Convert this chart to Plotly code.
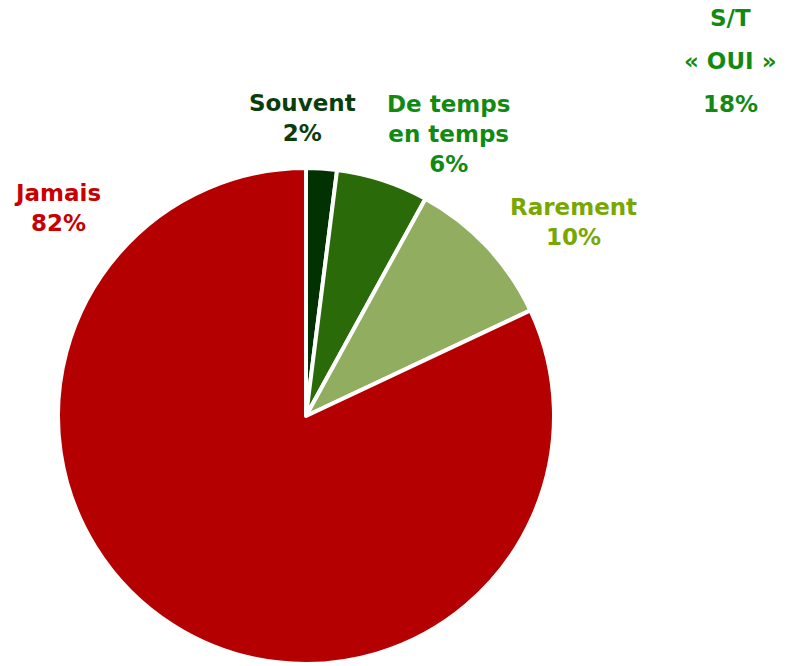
import plotly.graph_objects as go

categories = ["Souvent", "De temps en temps", "Rarement", "Jamais"]
label_text = ["Souvent", "De temps<br>en temps", "Rarement", "Jamais"]
values = [2, 6, 10, 82]
slice_colors = ["#023102", "#2a6a08", "#90ad60", "#b40000"]
label_colors = ["#0b3d0b", "#108a10", "#78a800", "#c80000"]
summary_title = ["S/T", "« OUI »"]
summary_color = "#128a12"

fig = go.Figure(go.Pie(
    labels=categories,
    values=values,
    sort=False,
    direction="clockwise",
    rotation=0,
    marker=dict(colors=slice_colors, line=dict(color="white", width=4)),
    textinfo="none",
    hoverinfo="label+percent",
    showlegend=False,
    domain=dict(x=[58/787, 554/787], y=[2/666, 498/666]),
))

font_family = "DejaVu Sans"
# label anchor positions (paper coords, centre of text block)
label_pos = [(302/787, 1 - 118/666), (448/787, 1 - 134/666), (573/787, 1 - 222/666), (57/787, 1 - 208/666)]
annotations = []
for name, v, c, (x, y) in zip(label_text, values, label_colors, label_pos):
    annotations.append(dict(
        x=x, y=y, xref="paper", yref="paper", showarrow=False,
        text=f"<b>{name}<br>{v}%</b>", align="center",
        font=dict(family=font_family, size=23, color=c),
        xanchor="center", yanchor="middle",
    ))

oui_total = sum(values[:3])
summary_lines = summary_title + [f"{oui_total}%"]
for i, t in enumerate(summary_lines):
    annotations.append(dict(
        x=730/787, y=1 - (18 + 43*i)/666, xref="paper", yref="paper", showarrow=False,
        text=f"<b>{t}</b>", font=dict(family=font_family, size=23, color=summary_color),
        xanchor="center", yanchor="middle",
    ))

fig.update_layout(
    width=787, height=666,
    margin=dict(l=0, r=0, t=0, b=0),
    paper_bgcolor="white", plot_bgcolor="white",
    annotations=annotations,
)

fig.write_html("out.html", config={"displayModeBar": False},
               post_script="document.body.style.margin='0px';")
